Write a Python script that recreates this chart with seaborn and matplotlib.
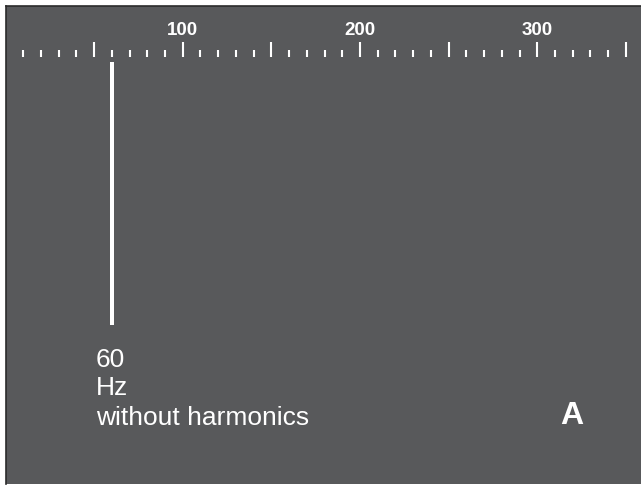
import matplotlib
matplotlib.use("Agg")
import matplotlib.pyplot as plt
import seaborn as sns
import pandas as pd
from matplotlib.ticker import FixedLocator, FixedFormatter, MultipleLocator

# ---- data ----
freqs = [60]            # Hz
amplitudes = [1.0]      # relative amplitude
major_ticks = [50, 100, 150, 200, 250, 300, 350]
major_labels = ["", "100", "", "200", "", "300", ""]
label_lines = ["60", "Hz", "without harmonics"]
panel_letter = "A"

BG = "#58595b"
FG = "#ffffff"

sns.set_theme(style="white")
plt.rcParams['font.family'] = ['Liberation Sans', 'DejaVu Sans']

W, H = 641, 487
fig = plt.figure(figsize=(W / 100, H / 100), dpi=100)
fig.patch.set_facecolor("white")

ax_left, ax_top, ax_bottom = 6, 6, 484
ax = fig.add_axes([ax_left / W, (H - ax_bottom) / H, (W - ax_left) / W, (ax_bottom - ax_top) / H])
ax.set_facecolor(BG)

df = pd.DataFrame({"freq": freqs, "amp": amplitudes})
sns.barplot(data=df, x="freq", y="amp", native_scale=True, width=2.5,
            color=FG, saturation=1, linewidth=0, ax=ax)

# x scale: 0 Hz at px 5.4, 1.773 px per Hz
x0_px, ppu = 5.4, 1.773
ax.set_xlim((ax_left - x0_px) / ppu, (W - x0_px) / ppu)
# y scale: amp 0 at px 325, amp 1 at px 62
y0_px, y1_px = 325, 62
ppy = y0_px - y1_px
ax.set_ylim(-(ax_bottom - y0_px) / ppy, 1 + (y1_px - ax_top) / ppy)

ax.set_xticks([])
ax.set_yticks([])
ax.set_xlabel("")
ax.set_ylabel("")
for s in ["right", "bottom"]:
    ax.spines[s].set_visible(False)
for s in ["top", "left"]:
    ax.spines[s].set_visible(True)
    ax.spines[s].set_color("#2b2b2b")
    ax.spines[s].set_linewidth(1.2)

# tick scale inside the panel
tick_base_px = 57.5
loc = (ax_bottom - tick_base_px) / (ax_bottom - ax_top)
sec = ax.secondary_xaxis(loc)
for sp in sec.spines.values():
    sp.set_visible(False)
    sp.set_color("none")
    sp.set_linewidth(0)
sec.xaxis.set_major_locator(FixedLocator(major_ticks))
sec.xaxis.set_major_formatter(FixedFormatter(major_labels))
sec.xaxis.set_minor_locator(MultipleLocator(10))
sec.tick_params(axis="x", which="major", direction="out", length=10.5, width=1.5,
                color=FG, pad=2.5, labelsize=13.5, labelcolor=FG)
sec.tick_params(axis="x", which="minor", direction="out", length=5.3, width=1.5, color=FG)
for t in sec.get_xticklabels():
    t.set_fontweight("bold")

# annotations
baselines = [367, 395, 425]
for txt, yb in zip(label_lines, baselines):
    fig.text(96 / W, 1 - yb / H, txt, color=FG, fontsize=19, ha="left", va="baseline")
fig.text(571.5 / W, 1 - 424 / H, panel_letter, color=FG, fontsize=23, fontweight="bold",
         ha="center", va="baseline")

fig.savefig("out.png", dpi=100, facecolor=fig.get_facecolor())
